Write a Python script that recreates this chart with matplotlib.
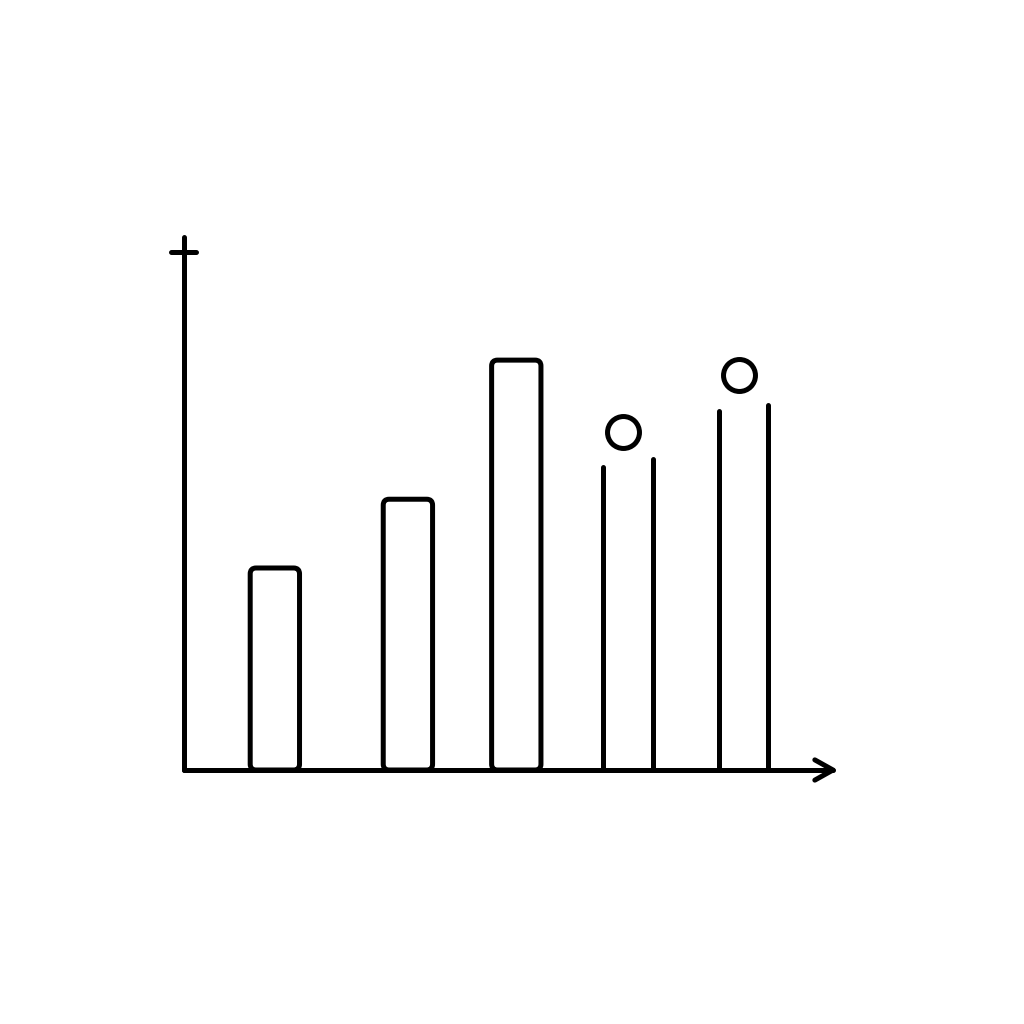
import matplotlib
matplotlib.use("Agg")
import matplotlib.pyplot as plt
from matplotlib.patches import FancyBboxPatch

# Closed bars
closed_x = [1.40, 3.45, 5.12]
closed_h = [3.79, 5.08, 7.69]

# Open bars (two sides of different heights) with a circle above
open_x = [6.84, 8.62]
open_left_h = [5.68, 6.74]
open_right_h = [5.83, 6.85]
circle_y = [6.34, 7.41]

bar_w = 0.76
lw = 3.6

fig = plt.figure(figsize=(10.24, 10.24), dpi=100)
fig.patch.set_facecolor("white")
ax = fig.add_axes([184 / 1024, (1024 - 770) / 1024, 649 / 1024, 533 / 1024])
ax.set_xlim(0, 10)
ax.set_ylim(0, 10)
ax.axis("off")

# axes
ax.plot([0, 0], [0, 10], color="black", lw=lw, solid_capstyle="round", clip_on=False)
ax.plot([-0.2, 0.185], [9.72, 9.72], color="black", lw=lw, solid_capstyle="round", clip_on=False)
ax.plot([0, 10], [0, 0], color="black", lw=lw, solid_capstyle="round", clip_on=False)
ax.plot([9.72, 10, 9.72], [0.19, 0, -0.19], color="black", lw=lw,
        solid_capstyle="round", solid_joinstyle="round", clip_on=False)

# closed bars (drawn through ax.bar, then given rounded corners)
bars = ax.bar(closed_x, closed_h, width=bar_w, fill=False, edgecolor="black",
              linewidth=lw, clip_on=False)
for b in bars:
    b.set_visible(False)
    fb = FancyBboxPatch((b.get_x(), b.get_y()), b.get_width(), b.get_height(),
                        boxstyle="round,pad=0,rounding_size=0.09",
                        mutation_aspect=64.9 / 53.3,
                        fill=False, edgecolor="black", linewidth=lw,
                        joinstyle="round", clip_on=False)
    ax.add_patch(fb)

# open bars
for x, hl, hr in zip(open_x, open_left_h, open_right_h):
    ax.plot([x - bar_w / 2, x - bar_w / 2], [0, hl], color="black", lw=lw,
            solid_capstyle="round", clip_on=False)
    ax.plot([x + bar_w / 2, x + bar_w / 2], [0, hr], color="black", lw=lw,
            solid_capstyle="round", clip_on=False)

# circles
ax.plot([x - 0.07 for x in open_x], circle_y, "o", ms=23, mfc="white",
        mec="black", mew=lw, linestyle="none", clip_on=False)

fig.savefig("out.png", dpi=100, facecolor="white")
